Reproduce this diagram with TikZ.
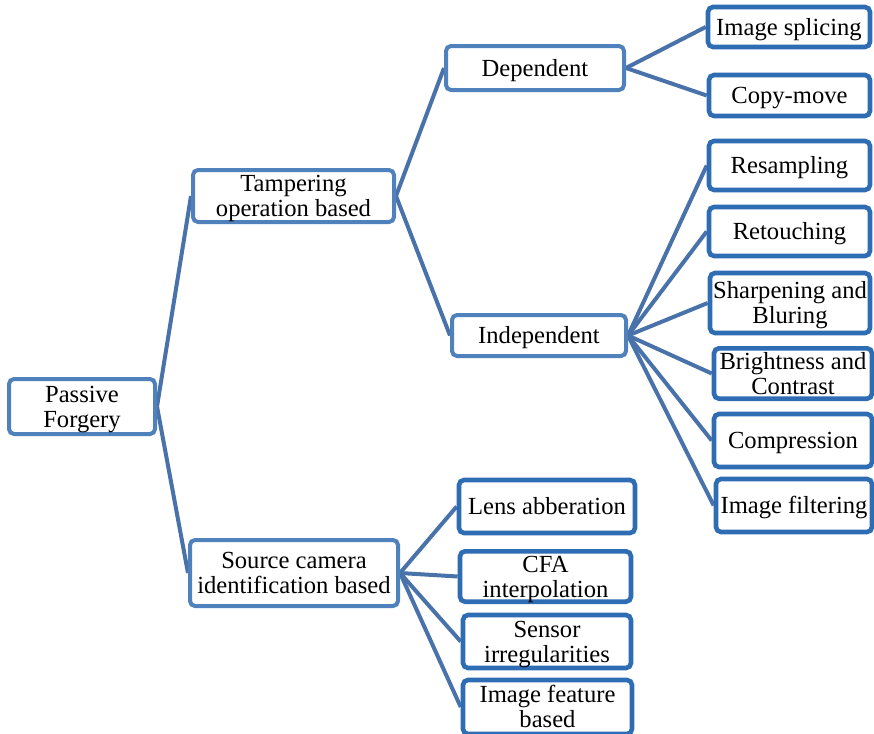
\documentclass[tikz,border=0pt]{standalone}
\usepackage{fontspec}
\setmainfont{Liberation Serif}
\usetikzlibrary{backgrounds}
\definecolor{midblue}{RGB}{79,129,189}
\definecolor{leafblue}{RGB}{46,109,180}
\definecolor{linkblue}{RGB}{74,114,170}
\tikzset{
  basebox/.style={rectangle, rounded corners=2.5pt, fill=white, inner sep=0pt,
    font=\fontsize{12.3}{12.6}\selectfont},
  innerbox/.style={basebox, draw=midblue, line width=2pt},
  leafbox/.style={basebox, draw=leafblue, line width=2.3pt},
  link/.style={draw=linkblue, line width=2pt},
}
% centred lines of text, set a little low inside their box
\newcommand{\boxtext}[1]{\raisebox{-1.6pt}[\height][\depth]{\setlength{\tabcolsep}{0pt}\begin{tabular}{c}#1\end{tabular}}}
\newcommand{\bx}[6]{\node[#1, minimum width=#4*0.5pt-2pt, minimum height=#5*0.5pt-2pt] (#2) at (#3) {\boxtext{#6}};}
\begin{document}
\begin{tikzpicture}[x=0.5pt,y=-0.5pt]
\useasboundingbox (0,0) rectangle (874,734);
% root and second level
\bx{innerbox}{pf}{82,406.5}{150}{59}{Passive\\Forgery}
\bx{innerbox}{tob}{293.5,196}{205}{56}{Tampering\\operation based}
\bx{innerbox}{sci}{294,573}{212}{70}{Source camera\\identification based}
% third level
\bx{innerbox}{dep}{535,68}{182}{48}{Dependent}
\bx{innerbox}{ind}{539,335.5}{178}{45}{Independent}
% leaves of the dependent branch
\bx{leafbox}{is}{789,27}{166}{44}{Image splicing}
\bx{leafbox}{cm}{789.5,95.5}{165}{45}{Copy-move}
% leaves of the independent branch
\bx{leafbox}{rs}{789.5,165.5}{165}{53}{Resampling}
\bx{leafbox}{rt}{789.5,231.5}{165}{53}{Retouching}
\bx{leafbox}{sb}{790,303}{164}{64}{Sharpening and\\Bluring}
\bx{leafbox}{bc}{793,373.5}{162}{53}{Brightness and\\Contrast}
\bx{leafbox}{cp}{793,440.5}{162}{57}{Compression}
\bx{leafbox}{if}{794,505.5}{160}{57}{Image filtering}
% leaves of the source camera branch
\bx{leafbox}{la}{547,506.5}{180}{57}{Lens abberation}
\bx{leafbox}{cfa}{545.5,576.5}{175}{53}{CFA\\interpolation}
\bx{leafbox}{si}{547,641.5}{172}{57}{Sensor\\irregularities}
\bx{leafbox}{ifb}{547.5,707}{173}{58}{Image feature\\based}
\begin{pgfonlayer}{background}
  \draw[link] (pf.east) -- (tob.west);
  \draw[link] (pf.east) -- (sci.west);
  \draw[link] (tob.east) -- (dep.west);
  \draw[link] (tob.east) -- (ind.west);
  \foreach \c in {is,cm} \draw[link] (dep.east) -- (\c.west);
  \foreach \c in {rs,rt,sb,bc,cp,if} \draw[link] (ind.east) -- (\c.west);
  \foreach \c in {la,cfa,si,ifb} \draw[link] (sci.east) -- (\c.west);
\end{pgfonlayer}
\end{tikzpicture}
\end{document}
